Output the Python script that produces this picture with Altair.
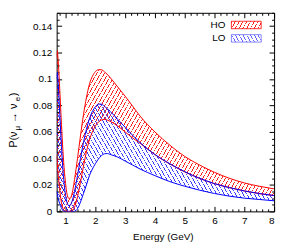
import math
import altair as alt
import pandas as pd

# ---------------- data ----------------
energy = [0.70, 0.72, 0.75, 0.80, 0.85, 0.90, 0.95, 1.00, 1.05, 1.10, 1.15, 1.20,
          1.25, 1.30, 1.40, 1.50, 1.60, 1.70, 1.80, 1.90, 2.00, 2.10, 2.20, 2.30,
          2.40, 2.50, 2.75, 3.00, 3.25, 3.50, 4.00, 4.50, 5.00, 5.50, 6.00, 6.50,
          7.00, 7.50, 8.00]
ho_upper = [0.117, 0.1215, 0.114, 0.094, 0.071, 0.050, 0.033, 0.021, 0.013, 0.0100,
            0.0098, 0.012, 0.017, 0.024, 0.040, 0.057, 0.073, 0.086, 0.096, 0.102,
            0.1055, 0.107, 0.107, 0.1055, 0.1035, 0.101, 0.094, 0.087, 0.0795, 0.072,
            0.060, 0.050, 0.0415, 0.035, 0.0295, 0.025, 0.0215, 0.019, 0.017]
ho_lower = [0.042, 0.036, 0.028, 0.017, 0.008, 0.003, 0.0005, 0.0, 0.0, 0.0,
            0.0, 0.0, 0.001, 0.003, 0.011, 0.022, 0.034, 0.045, 0.054, 0.060,
            0.0645, 0.0675, 0.069, 0.0695, 0.069, 0.068, 0.0645, 0.060, 0.0555, 0.0515,
            0.0428, 0.0358, 0.0298, 0.0249, 0.0209, 0.0179, 0.0154, 0.0134, 0.0119]
lo_upper = [0.100, 0.105, 0.097, 0.076, 0.054, 0.035, 0.021, 0.012, 0.0065, 0.0045,
            0.0045, 0.0065, 0.010, 0.015, 0.027, 0.040, 0.052, 0.062, 0.070, 0.0755,
            0.079, 0.081, 0.081, 0.0795, 0.0775, 0.0755, 0.0695, 0.0635, 0.0575, 0.052,
            0.043, 0.036, 0.030, 0.025, 0.021, 0.018, 0.0155, 0.0135, 0.012]
lo_lower = [0.015, 0.013, 0.010, 0.006, 0.003, 0.001, 0.0, 0.0, 0.0, 0.0,
            0.0, 0.0, 0.0, 0.0, 0.002, 0.007, 0.0135, 0.020, 0.027, 0.032,
            0.036, 0.0395, 0.042, 0.0435, 0.0437, 0.043, 0.041, 0.038, 0.035, 0.032,
            0.027, 0.0225, 0.019, 0.016, 0.0135, 0.0115, 0.010, 0.009, 0.008]

x_major = [1, 2, 3, 4, 5, 6, 7, 8]
y_major = [0, 0.02, 0.04, 0.06, 0.08, 0.10, 0.12, 0.14]
x_minor = [round(0.8 + 0.2 * i, 1) for i in range(37) if abs((0.8 + 0.2 * i) - round(0.8 + 0.2 * i)) > 1e-6]
y_minor = [round(0.005 * i, 3) for i in range(31) if i % 4 != 0]
legend_labels = ["HO", "LO"]

df = pd.DataFrame({"E": energy, "ho_hi": ho_upper, "ho_lo": ho_lower,
                   "lo_hi": lo_upper, "lo_lo": lo_lower})

W, H = 219, 200
FONT = "Liberation Sans"
RED = "#ff0000"
BLUE = "#0000ff"


def hatch(color, w, h, angle=60, period=3.3, frac=0.22, slant="/"):
    th = math.radians(angle)
    nx, ny = math.sin(th), math.cos(th)
    gu, gv = nx * w, ny * h
    k = (gu + gv) / (gu * gu + gv * gv)
    a, b = gu * k, gv * k
    n = max(1, int(round((nx * w + ny * h) / period)))
    stops = []
    for i in range(n):
        t0, t1, t2 = i / n, (i + frac) / n, (i + 1) / n
        stops += [alt.GradientStop(offset=round(t0, 5), color=color),
                  alt.GradientStop(offset=round(t1, 5), color=color),
                  alt.GradientStop(offset=round(t1, 5), color="transparent"),
                  alt.GradientStop(offset=round(t2, 5), color="transparent")]
    if slant == "/":
        return alt.LinearGradient(gradient="linear", stops=stops, x1=0, y1=0, x2=a, y2=b)
    return alt.LinearGradient(gradient="linear", stops=stops, x1=0, y1=1, x2=a, y2=1 - b)


xs = alt.Scale(domain=[0.7, 8], nice=False, zero=False)
ys = alt.Scale(domain=[0, 0.15], nice=False, zero=False)
base = alt.Chart(df)

x_label_axis = alt.Axis(orient="bottom", values=x_major, format="d", ticks=False, domain=False,
                        grid=False, labelPadding=4, labelFontSize=10, title="Energy (GeV)",
                        titleFontSize=10, titleFontWeight="normal", titleX=107, titleY=28,
                        titleBaseline="alphabetic")
y_label_axis = alt.Axis(orient="left", values=y_major, format="~g", ticks=False, domain=False,
                        grid=False, labelPadding=5, labelFontSize=10, title=None)

red_fill = hatch(RED, W, 162, slant="/")
blue_fill = hatch(BLUE, W, 140, slant="\\")

ho_area = base.mark_area(fill=red_fill, fillOpacity=0.85, interpolate="monotone", clip=True).encode(
    x=alt.X("E:Q", scale=xs, axis=x_label_axis),
    y=alt.Y("ho_lo:Q", scale=ys, axis=y_label_axis),
    y2="ho_hi:Q")
lo_area = base.mark_area(fill=blue_fill, fillOpacity=0.75, interpolate="monotone", clip=True).encode(
    x=alt.X("E:Q", scale=xs, axis=None),
    y=alt.Y("lo_lo:Q", scale=ys, axis=None),
    y2="lo_hi:Q")


def curve(field, color):
    return base.mark_line(color=color, strokeWidth=1, interpolate="monotone", clip=True).encode(
        x=alt.X("E:Q", scale=xs, axis=None),
        y=alt.Y(f"{field}:Q", scale=ys, axis=None))


def tick_layer(xaxis, yaxis):
    return base.mark_point(opacity=0).encode(
        x=alt.X("E:Q", scale=xs, axis=xaxis),
        y=alt.Y("ho_hi:Q", scale=ys, axis=yaxis))


def tax(orient, offset, values, size):
    return alt.Axis(orient=orient, offset=offset, values=values, tickSize=size, labels=False,
                    domain=False, grid=False, title=None, tickColor="black", tickWidth=1)


ticks_a = tick_layer(tax("top", -H, x_major, 5), tax("right", -W, y_major, 5))
ticks_b = tick_layer(tax("top", -H, x_minor, 2.5), tax("right", -W, y_minor, 2.5))
ticks_c = tick_layer(tax("bottom", -H, x_major, 5), tax("left", -W, y_major, 5))
ticks_d = tick_layer(tax("bottom", -H, x_minor, 2.5), tax("left", -W, y_minor, 2.5))

# legend
one = alt.Chart(pd.DataFrame({"k": [0]}))
leg_ho_text = one.mark_text(text=legend_labels[0], align="right", baseline="middle",
                            font=FONT, fontSize=10).encode(x=alt.value(170), y=alt.value(12))
leg_lo_text = one.mark_text(text=legend_labels[1], align="right", baseline="middle",
                            font=FONT, fontSize=10).encode(x=alt.value(170), y=alt.value(25.5))
leg_ho_box = one.mark_rect(fill=hatch(RED, 30, 7.5, slant="/"), fillOpacity=0.85,
                           stroke=RED, strokeWidth=0.8).encode(
    x=alt.value(176), x2=alt.value(206), y=alt.value(8.5), y2=alt.value(16))
leg_lo_box = one.mark_rect(fill=hatch(BLUE, 30, 7.5, slant="\\"), fillOpacity=0.6,
                           stroke="#6a6aff", strokeWidth=0.8).encode(
    x=alt.value(176), x2=alt.value(206), y=alt.value(22), y2=alt.value(29.5))

# y-axis title  P(ν_μ → ν_e)
tx, ty = -40, 136
title_parts = [("P(ν", 11, 0, 0), ("μ", 8, 17.5, 3), ("→ ν", 11, 25, 0),
               ("e", 8, 47, 3), (")", 11, 52, 0)]
title_layers = [one.mark_text(text=t, align="left", baseline="alphabetic", angle=270,
                              font=FONT, fontSize=fs, dx=dx, dy=dy).encode(
    x=alt.value(tx), y=alt.value(ty)) for t, fs, dx, dy in title_parts]

chart = alt.layer(
    ho_area, lo_area,
    curve("ho_hi", RED), curve("ho_lo", RED),
    curve("lo_hi", BLUE), curve("lo_lo", BLUE),
    ticks_a, ticks_b, ticks_c, ticks_d,
    leg_ho_box, leg_lo_box, leg_ho_text, leg_lo_text,
    *title_layers
).resolve_axis(x="independent", y="independent").properties(
    width=W, height=H, autosize="none",
    padding={"left": 49, "top": 4, "right": 12, "bottom": 31}
).configure_view(stroke="black", strokeWidth=1).configure_axis(
    labelFont=FONT, titleFont=FONT, labelColor="black", titleColor="black"
)

chart.save("out.html", embed_options={"renderer": "svg", "actions": False})
